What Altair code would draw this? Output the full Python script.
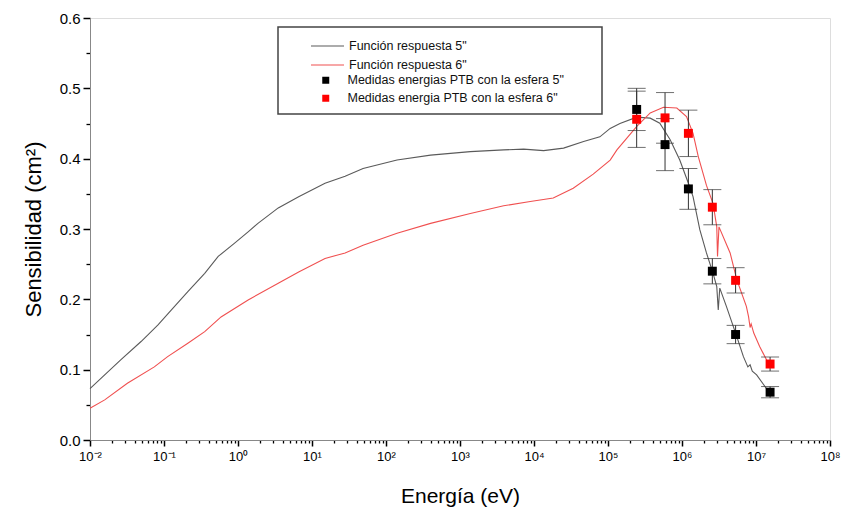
import altair as alt
import pandas as pd

# --- Función respuesta 5" (gray curve) ---
e_5 = [1.0e-2, 2.6e-2, 4.9e-2, 8.3e-2, 0.126, 0.21, 0.355, 0.54, 0.9, 1.37, 1.86, 3.5, 6.6,
       15, 28, 49, 141, 400, 1380, 3890, 7240, 13500, 25100, 46800, 77600, 107000,
       145000, 245000, 372000, 501000, 692000, 933000, 1.27e6, 1.41e6, 1.74e6, 2.14e6,
       2.63e6, 2.95e6, 3.09e6, 3.24e6, 3.98e6, 5.5e6, 6.76e6, 7.76e6, 8.32e6, 8.91e6,
       1.02e7, 1.55e7]
s_5 = [0.073, 0.114, 0.140, 0.1636, 0.185, 0.211, 0.237, 0.261, 0.280, 0.296, 0.308, 0.330,
       0.346, 0.365, 0.375, 0.386, 0.398, 0.405, 0.410, 0.4125, 0.4135, 0.4115, 0.415, 0.4245,
       0.431, 0.443, 0.450, 0.459, 0.4576, 0.4505, 0.427, 0.398, 0.360, 0.346, 0.299, 0.266,
       0.237, 0.218, 0.185, 0.216, 0.190, 0.147, 0.1185, 0.104, 0.107, 0.098,
       0.0925, 0.066]

# --- Función respuesta 6" (red curve) ---
e_6 = [1.0e-2, 1.58e-2, 3.2e-2, 7.4e-2, 0.112, 0.21, 0.355, 0.59, 1.37, 3.5, 6.6, 15, 28,
       49, 141, 400, 1380, 3890, 8900, 18200, 33900, 63100, 107000, 132000, 245000, 372000,
       562000, 851000, 1.15e6, 1.41e6, 1.66e6, 2.14e6, 2.63e6, 2.95e6, 3.02e6, 3.16e6,
       4.47e6, 5.5e6, 7.41e6, 7.94e6, 8.32e6, 8.6e6, 9.33e6, 1.12e7, 1.55e7]
s_6 = [0.045, 0.057, 0.0806, 0.104, 0.1185, 0.1375, 0.154, 0.175, 0.199, 0.223, 0.239,
       0.258, 0.266, 0.277, 0.294, 0.308, 0.322, 0.333, 0.339, 0.344, 0.358, 0.378, 0.398,
       0.4125, 0.446, 0.465, 0.473, 0.472, 0.460, 0.436, 0.403, 0.362, 0.336, 0.303, 0.261,
       0.303, 0.266, 0.228, 0.190, 0.175, 0.160, 0.165, 0.152, 0.133, 0.104]

# --- Medidas PTB ---
e_med = [2.44e5, 5.9e5, 1.22e6, 2.57e6, 5.3e6, 1.55e7]
s_med_5 = [0.470, 0.420, 0.357, 0.240, 0.150, 0.068]
err_5 = [0.030, 0.037, 0.029, 0.018, 0.013, 0.008]
s_med_6 = [0.456, 0.458, 0.436, 0.331, 0.227, 0.108]
err_6 = [0.040, 0.036, 0.033, 0.025, 0.018, 0.010]

lab_5 = 'Función respuesta 5"'
lab_6 = 'Función respuesta 6"'
lab_m5 = 'Medidas energias PTB con la esfera 5"'
lab_m6 = 'Medidas energia PTB con la esfera 6"'

x_title = "Energía (eV)"
y_title = "Sensibilidad (cm²)"

x_major = [10.0 ** n for n in range(-2, 9)]
x_minor = [m * 10.0 ** n for n in range(-2, 8) for m in range(2, 10)]
y_major = [round(i * 0.1, 1) for i in range(7)]
y_minor = [round(0.05 + i * 0.1, 2) for i in range(6)]

FONT = "Liberation Sans"

curves = pd.concat([
    pd.DataFrame({"E": e_5, "S": s_5, "serie": lab_5, "o": range(len(e_5))}),
    pd.DataFrame({"E": e_6, "S": s_6, "serie": lab_6, "o": range(len(e_6))}),
])
meas = pd.concat([
    pd.DataFrame({"E": e_med, "S": s_med_5, "err": err_5, "serie": lab_m5}),
    pd.DataFrame({"E": e_med, "S": s_med_6, "err": err_6, "serie": lab_m6}),
])
meas["lo"] = meas["S"] - meas["err"]
meas["hi"] = meas["S"] + meas["err"]

sup = "['⁻²','⁻¹','⁰','¹','²','³','⁴','⁵','⁶','⁷','⁸']"
x_label_expr = f"'10' + {sup}[round(log(datum.value)/LN10) + 2]"

x_scale = alt.Scale(type="log", domain=[1e-2, 1e8], nice=False)
y_scale = alt.Scale(domain=[0, 0.6], nice=False)

x_enc = alt.X("E:Q", scale=x_scale, title=x_title,
              axis=alt.Axis(values=x_major, labelExpr=x_label_expr, labelOverlap=False,
                            labelFlush=False, grid=False, orient="bottom", ticks=True,
                            tickSize=6, tickWidth=1.5, tickColor="#000000",
                            labelFontSize=13, titleFontSize=21, titlePadding=22,
                            titleFontWeight="normal", labelPadding=4))
y_enc = alt.Y("S:Q", scale=y_scale, title=y_title,
              axis=alt.Axis(values=y_major, format=".1f", grid=False, orient="left",
                            ticks=True, tickSize=7, tickWidth=1.5, tickColor="#000000",
                            labelFontSize=15, titleFontSize=22,
                            titlePadding=14, titleFontWeight="normal", labelPadding=3))

x_minor_enc = alt.X("E:Q", scale=x_scale, title=None,
                    axis=alt.Axis(values=x_minor, labels=False, domain=False, grid=False,
                                  orient="bottom", ticks=True, tickSize=3, tickWidth=1.3,
                                  tickColor="#000000", title=None))
y_minor_enc = alt.Y("S:Q", scale=y_scale, title=None,
                    axis=alt.Axis(values=y_minor, labels=False, domain=False, grid=False,
                                  orient="left", ticks=True, tickSize=4, tickWidth=1.3,
                                  tickColor="#000000", title=None))

box = alt.Chart(pd.DataFrame({"a": [0]})).mark_rect(
    fill="white", stroke="#444444", strokeWidth=1.5
).encode(x=alt.value(188), x2=alt.value(512), y=alt.value(9), y2=alt.value(96))

minor = alt.Chart(curves).mark_point(opacity=0).encode(x=x_minor_enc, y=y_minor_enc)

lines = alt.Chart(curves).mark_line(strokeWidth=1.1).encode(
    x=x_enc, y=y_enc, order="o:Q",
    stroke=alt.Stroke("serie:N",
                      scale=alt.Scale(domain=[lab_5, lab_6], range=["#5a5a5a", "#f05050"]),
                      legend=alt.Legend(orient="none", legendX=230.5, legendY=21, title=None,
                                        symbolType="M-2.75,0L2.75,0", symbolSize=144,
                                        symbolStrokeWidth=1.2, labelOffset=14.5,
                                        rowPadding=5, padding=0, labelFont=FONT,
                                        labelFontSize=12.5, labelLimit=400,
                                        labelColor="#111111")),
)

noax_x = alt.X("E:Q", scale=x_scale, axis=None)
rules = alt.Chart(meas).mark_rule(color="#333333", strokeWidth=1).encode(
    x=noax_x, y=alt.Y("lo:Q", scale=y_scale, axis=None), y2="hi:Q")
tick_lo = alt.Chart(meas).mark_tick(color="#333333", thickness=1, size=18,
                                    orient="horizontal").encode(
    x=noax_x, y=alt.Y("lo:Q", scale=y_scale, axis=None))
tick_hi = alt.Chart(meas).mark_tick(color="#333333", thickness=1, size=18,
                                    orient="horizontal").encode(
    x=noax_x, y=alt.Y("hi:Q", scale=y_scale, axis=None))

points = alt.Chart(meas).mark_square(size=80, opacity=1).encode(
    x=noax_x, y=alt.Y("S:Q", scale=y_scale, axis=None),
    fill=alt.Fill("serie:N",
                  scale=alt.Scale(domain=[lab_m5, lab_m6], range=["#000000", "#ff0000"]),
                  legend=alt.Legend(orient="none", legendX=229.5, legendY=56, title=None,
                                    symbolType="square", symbolSize=49, symbolStrokeWidth=0,
                                    labelOffset=15.5, rowPadding=5, padding=0,
                                    labelFont=FONT, labelFontSize=12.5, labelLimit=400,
                                    labelColor="#111111")),
)

chart = alt.layer(minor, lines, rules, tick_lo, tick_hi, points, box).resolve_axis(
    x="independent", y="independent"
).properties(
    width=740, height=422, autosize="none",
    padding={"left": 90, "top": 18, "right": 16, "bottom": 80},
).configure_axis(
    labelFont=FONT, titleFont=FONT, titleFontWeight="normal", domainColor="#000000",
    domainWidth=1.5, labelColor="#111111", titleColor="#111111",
).configure_view(stroke="#999999", strokeWidth=1).configure(background="white")

chart.save("out.html", embed_options={"renderer": "svg", "actions": False})
